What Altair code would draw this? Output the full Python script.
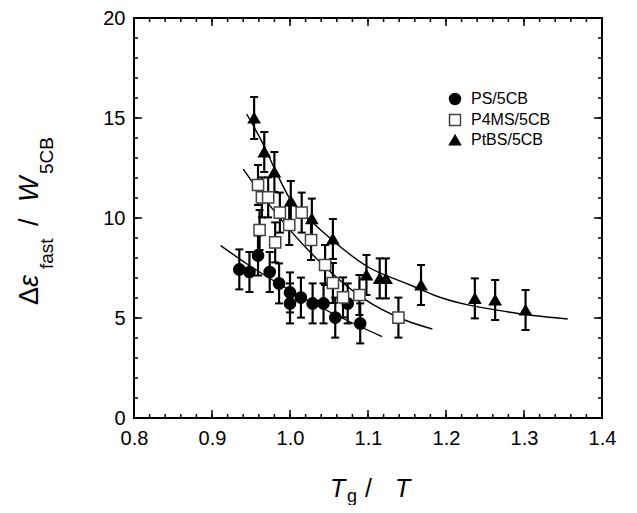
import altair as alt
import pandas as pd

FONT = "Liberation Sans"

# ---------------- data ----------------
series_names = ["PS/5CB", "P4MS/5CB", "PtBS/5CB"]

ps_x = [0.935, 0.948, 0.959, 0.974, 0.986, 1.000, 1.000, 1.014, 1.029, 1.043, 1.058, 1.074, 1.090]
ps_y = [7.43, 7.30, 8.12, 7.30, 6.73, 6.28, 5.73, 6.02, 5.73, 5.73, 5.02, 5.73, 4.73]
ps_err = [1.0, 1.0, 1.0, 1.0, 1.0, 1.0, 1.0, 1.0, 1.0, 1.0, 1.0, 1.0, 1.0]

p4_x = [0.959, 0.961, 0.964, 0.972, 0.981, 0.987, 0.999, 1.015, 1.027, 1.045, 1.055, 1.068, 1.089, 1.139]
p4_y = [11.65, 9.40, 11.03, 11.03, 8.78, 10.27, 9.65, 10.27, 8.90, 7.65, 6.75, 6.03, 6.15, 5.02]
p4_err = [1.0, 1.0, 1.0, 1.0, 1.0, 1.0, 1.0, 1.0, 1.0, 1.0, 1.0, 1.0, 1.0, 1.0]

pt_x = [0.954, 0.967, 0.980, 1.001, 1.028, 1.055, 1.098, 1.115, 1.123, 1.168, 1.237, 1.263, 1.302]
pt_y = [15.0, 13.3, 12.3, 10.85, 9.97, 8.95, 7.15, 6.98, 6.98, 6.65, 5.98, 5.90, 5.40]
pt_err = [1.05, 1.0, 1.0, 1.0, 1.0, 1.0, 1.0, 1.0, 1.0, 1.0, 1.0, 1.0, 1.0]

# fitted curves
ps_fit_x = [0.911, 0.945, 0.986, 1.051, 1.118]
ps_fit_y = [8.62, 7.70, 6.70, 5.30, 4.07]
p4_fit_x = [0.940, 0.972, 1.0385, 1.094, 1.147, 1.1825]
p4_fit_y = [12.45, 10.73, 7.80, 5.98, 4.90, 4.45]
pt_fit_x = [0.9444, 0.968, 0.981, 1.000, 1.027, 1.0555, 1.098, 1.154, 1.184, 1.280, 1.356]
pt_fit_y = [15.2, 13.5, 12.4, 10.95, 9.85, 8.85, 7.60, 6.65, 6.15, 5.30, 4.95]

x_major = [0.8, 0.9, 1.0, 1.1, 1.2, 1.3, 1.4]
x_minor = [round(0.8 + 0.02 * i, 2) for i in range(31)]
y_major = [0, 5, 10, 15, 20]
y_minor = list(range(0, 21))

# ---------------- tables ----------------
pts = pd.concat([
    pd.DataFrame({"x": ps_x, "y": ps_y, "e": ps_err, "series": series_names[0]}),
    pd.DataFrame({"x": p4_x, "y": p4_y, "e": p4_err, "series": series_names[1]}),
    pd.DataFrame({"x": pt_x, "y": pt_y, "e": pt_err, "series": series_names[2]}),
], ignore_index=True)
pts["lo"] = pts["y"] - pts["e"]
pts["hi"] = pts["y"] + pts["e"]
pts["order"] = pts["series"].map({s: i for i, s in enumerate(series_names)})

fits = pd.concat([
    pd.DataFrame({"x": ps_fit_x, "y": ps_fit_y, "series": series_names[0]}),
    pd.DataFrame({"x": p4_fit_x, "y": p4_fit_y, "series": series_names[1]}),
    pd.DataFrame({"x": pt_fit_x, "y": pt_fit_y, "series": series_names[2]}),
], ignore_index=True)

W, H = 468, 400

xs = alt.Scale(domain=[0.8, 1.4], nice=False, zero=False)
ys = alt.Scale(domain=[0, 20], nice=False, zero=False)

X = alt.X("x:Q", scale=xs, axis=alt.Axis(values=x_major, format=".1f", title=None, labelFlush=False))
Y = alt.Y("y:Q", scale=ys, axis=alt.Axis(values=y_major, format="d", title=None, labelFlush=False))

fit_layer = alt.Chart(fits).mark_line(color="black", strokeWidth=1.4, interpolate="monotone").encode(
    x=X, y=Y, detail="series:N"
)

err_rule = alt.Chart(pts).mark_rule(color="black", strokeWidth=2.2).encode(
    x=alt.X("x:Q", scale=xs), y=alt.Y("lo:Q", scale=ys), y2="hi:Q"
)
cap_lo = alt.Chart(pts).mark_tick(color="black", orient="horizontal", thickness=2, size=8, opacity=1).encode(
    x=alt.X("x:Q", scale=xs), y=alt.Y("lo:Q", scale=ys)
)
cap_hi = alt.Chart(pts).mark_tick(color="black", orient="horizontal", thickness=2, size=8, opacity=1).encode(
    x=alt.X("x:Q", scale=xs), y=alt.Y("hi:Q", scale=ys)
)

leg = alt.Legend(title=None, orient="none", legendX=313, legendY=73, labelFont=FONT,
                 labelFontSize=16, labelColor="black", symbolSize=120, symbolStrokeWidth=1.5,
                 rowPadding=3, labelOffset=8, padding=0)
points = alt.Chart(pts).mark_point(filled=True, opacity=1, size=125, strokeWidth=1.5).encode(
    x=X, y=Y,
    shape=alt.Shape("series:N", scale=alt.Scale(domain=series_names, range=["circle", "square", "triangle-up"]), legend=leg),
    fill=alt.Fill("series:N", scale=alt.Scale(domain=series_names, range=["black", "white", "black"]), legend=leg),
    stroke=alt.Stroke("series:N", scale=alt.Scale(domain=series_names, range=["black", "#444444", "black"]), legend=leg),
    order=alt.Order("order:Q"),
)

# inward ticks on all four sides
def tick_layer(vals, length, side):
    df = pd.DataFrame({"v": vals})
    c = alt.Chart(df).mark_rule(color="black", strokeWidth=1.5)
    if side == "bottom":
        return c.encode(x=alt.X("v:Q", scale=xs), y=alt.value(H), y2=alt.value(H - length))
    if side == "top":
        return c.encode(x=alt.X("v:Q", scale=xs), y=alt.value(0), y2=alt.value(length))
    if side == "left":
        return c.encode(y=alt.Y("v:Q", scale=ys), x=alt.value(0), x2=alt.value(length))
    return c.encode(y=alt.Y("v:Q", scale=ys), x=alt.value(W), x2=alt.value(W - length))

ticks = []
for side in ["bottom", "top"]:
    ticks.append(tick_layer(x_minor, 4, side))
    ticks.append(tick_layer(x_major, 8, side))
for side in ["left", "right"]:
    ticks.append(tick_layer(y_minor, 4, side))
    ticks.append(tick_layer(y_major, 8, side))

one = pd.DataFrame({"k": [0]})

def txt(s, x, y, size, italic=False, angle=0):
    kw = dict(text=s, font=FONT, fontSize=size, align="left", baseline="alphabetic", color="black")
    if italic:
        kw["fontStyle"] = "italic"
    if angle:
        kw["angle"] = angle
    return alt.Chart(one).mark_text(**kw).encode(x=alt.value(x), y=alt.value(y))

titles = [
    # x title: T_g / T
    txt("T", 196, 479, 25, italic=True),
    txt("g", 213, 484, 18),
    txt("/", 231, 479, 25),
    txt("T", 261, 479, 25, italic=True),
    # y title: Δε_fast / W_5CB (rotated)
    txt("Δ", -96, 287, 27, angle=270),
    txt("ε", -96, 269, 27, italic=True, angle=270),
    txt("fast", -81, 251, 19, angle=270),
    txt("/", -96, 208, 27, angle=270),
    txt("W", -96, 184, 27, italic=True, angle=270),
    txt("5CB", -81, 156, 19, angle=270),
]

chart = alt.layer(fit_layer, err_rule, cap_lo, cap_hi, points, *ticks, *titles).properties(
    width=W, height=H,
    autosize=alt.AutoSizeParams(type="none"),
    padding={"left": 126, "top": 10, "right": 27, "bottom": 87},
).configure_view(
    stroke="black", strokeWidth=2
).configure_axis(
    grid=False, domain=False, ticks=False, labelFont=FONT, labelFontSize=20,
    labelColor="black", labelPadding=10
).configure_axisY(labelPadding=9)

chart.save("out.html", embed_options={"renderer": "svg", "actions": False})
